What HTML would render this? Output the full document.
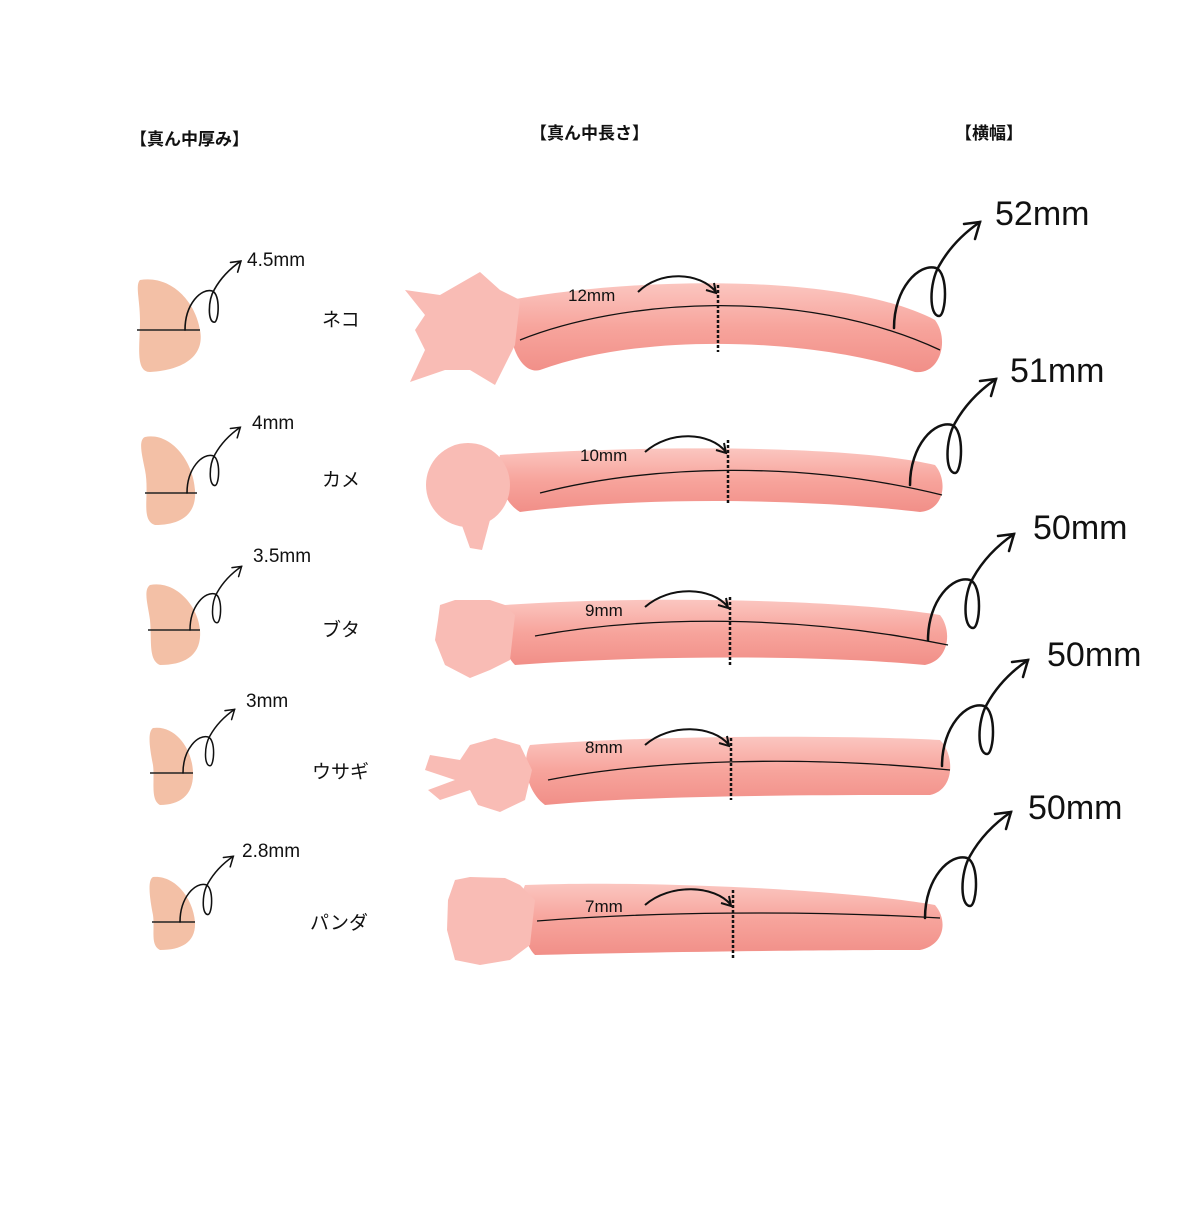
<!DOCTYPE html>
<html><head><meta charset="utf-8"><style>
html,body{margin:0;padding:0;background:#fff;}
svg text{font-family:"Liberation Sans","Noto Sans CJK JP",sans-serif;fill:#111;}
</style></head><body>
<svg width="1200" height="1200" viewBox="0 0 1200 1200" xmlns="http://www.w3.org/2000/svg">
<defs>
<g id="loop" fill="none" stroke="#111" stroke-width="2.5" stroke-linecap="round">
<path d="M0,0 C0,-40 25,-65 42,-60 C55,-55 52,-12 45,-12 C35,-12 35,-45 45,-62 C55,-80 70,-95 86,-106"/>
<path d="M70,-104 L86,-106 L81,-89"/>
</g>
<linearGradient id="bg" x1="0" y1="0" x2="0" y2="1">
<stop offset="0" stop-color="#fbc6c0"/><stop offset="0.5" stop-color="#f7a49c"/><stop offset="1" stop-color="#f18f88"/>
</linearGradient>
</defs>
<text x="130" y="145" font-size="17" font-weight="bold">【真ん中厚み】</text>
<text x="530" y="139" font-size="17" font-weight="bold">【真ん中長さ】</text>
<text x="955" y="139" font-size="17" font-weight="bold">【横幅】</text>

<!-- Row 1 -->
<path d="M140,280 C170,275 195,300 200,330 C205,355 185,370 150,372 C135,372 140,345 140,320 C140,300 135,285 140,280Z" fill="#f3c0a6"/>
<line x1="137" y1="330" x2="200" y2="330" stroke="#222" stroke-width="1.5"/>
<use href="#loop" transform="translate(185,330) scale(0.65)"/>
<text x="247" y="266" font-size="19">4.5mm</text>
<text x="322" y="326" font-size="19">ネコ</text>
<path d="M510,300 C650,275 850,275 935,320 C950,340 940,375 915,372 C820,340 650,330 540,370 C520,375 505,340 510,300Z" fill="url(#bg)"/>
<path d="M405,290 L440,295 L480,272 L500,290 L520,300 L515,345 L495,385 L470,370 L445,370 L410,382 L425,350 L415,330 L425,315Z" fill="#f9bcb5"/>
<path d="M520,340 C620,300 800,285 940,350" fill="none" stroke="#111" stroke-width="1.3"/>
<line x1="718" y1="285" x2="718" y2="352" stroke="#111" stroke-width="2.5" stroke-dasharray="3,2"/>
<path d="M638,292 C660,270 700,272 716,292" fill="none" stroke="#111" stroke-width="2"/><path d="M706,290 L716,293 L714,283" fill="none" stroke="#111" stroke-width="2"/>
<text x="568" y="301" font-size="17">12mm</text>
<use href="#loop" transform="translate(894,328)"/>
<text x="995" y="225" font-size="34">52mm</text>

<!-- Row 2 -->
<path d="M145,437 C170,432 193,460 195,490 C197,515 180,525 155,525 C140,520 150,495 145,470 C142,455 138,440 145,437Z" fill="#f3c0a6"/>
<line x1="145" y1="493" x2="197" y2="493" stroke="#222" stroke-width="1.5"/>
<use href="#loop" transform="translate(187,493) scale(0.62)"/>
<text x="252" y="429" font-size="19">4mm</text>
<text x="322" y="486" font-size="19">カメ</text>
<path d="M500,455 C650,445 850,445 935,465 C948,480 945,510 920,512 C820,500 650,495 520,512 C500,500 495,470 500,455Z" fill="url(#bg)"/>
<circle cx="468" cy="485" r="42" fill="#f9bcb5"/><path d="M460,520 L490,520 L482,550 L470,548Z" fill="#f9bcb5"/>
<path d="M540,493 C650,465 800,460 942,495" fill="none" stroke="#111" stroke-width="1.3"/>
<line x1="728" y1="440" x2="728" y2="505" stroke="#111" stroke-width="2.5" stroke-dasharray="3,2"/>
<path d="M645,452 C670,430 710,432 726,452" fill="none" stroke="#111" stroke-width="2"/><path d="M716,450 L726,453 L724,443" fill="none" stroke="#111" stroke-width="2"/>
<text x="580" y="461" font-size="17">10mm</text>
<use href="#loop" transform="translate(910,485)"/>
<text x="1010" y="382" font-size="34">51mm</text>

<!-- Row 3 -->
<path d="M150,585 C175,580 198,605 200,630 C202,655 185,665 160,665 C148,660 152,640 150,620 C148,605 143,590 150,585Z" fill="#f3c0a6"/>
<line x1="148" y1="630" x2="200" y2="630" stroke="#222" stroke-width="1.5"/>
<use href="#loop" transform="translate(190,630) scale(0.6)"/>
<text x="253" y="562" font-size="19">3.5mm</text>
<text x="322" y="636" font-size="19">ブタ</text>
<path d="M505,605 C650,595 850,600 940,615 C952,630 950,660 925,665 C820,655 650,655 515,665 C500,650 498,620 505,605Z" fill="url(#bg)"/>
<path d="M440,605 L455,600 L490,600 L505,605 L515,615 L510,660 L490,670 L470,678 L445,665 L435,640 L438,620Z" fill="#f9bcb5"/>
<path d="M535,636 C650,615 800,615 948,645" fill="none" stroke="#111" stroke-width="1.3"/>
<line x1="730" y1="597" x2="730" y2="665" stroke="#111" stroke-width="2.5" stroke-dasharray="3,2"/>
<path d="M645,607 C670,585 712,587 728,607" fill="none" stroke="#111" stroke-width="2"/><path d="M718,605 L728,608 L726,598" fill="none" stroke="#111" stroke-width="2"/>
<text x="585" y="616" font-size="17">9mm</text>
<use href="#loop" transform="translate(928,640)"/>
<text x="1033" y="539" font-size="34">50mm</text>

<!-- Row 4 -->
<path d="M153,728 C175,725 192,748 193,772 C194,795 180,805 160,805 C150,800 155,780 153,765 C150,750 147,732 153,728Z" fill="#f3c0a6"/>
<line x1="150" y1="773" x2="193" y2="773" stroke="#222" stroke-width="1.5"/>
<use href="#loop" transform="translate(183,773) scale(0.6)"/>
<text x="246" y="707" font-size="19">3mm</text>
<text x="312" y="778" font-size="19">ウサギ</text>
<path d="M530,745 C650,735 850,735 940,740 C955,755 955,790 930,795 C820,795 650,795 545,805 C525,790 522,760 530,745Z" fill="url(#bg)"/>
<path d="M470,745 L495,738 L520,745 L532,770 L525,800 L500,812 L478,805 L470,790 L440,800 L428,790 L455,780 L425,770 L430,755 L460,760Z" fill="#f9bcb5"/>
<path d="M548,780 C650,760 800,755 950,770" fill="none" stroke="#111" stroke-width="1.3"/>
<line x1="731" y1="738" x2="731" y2="800" stroke="#111" stroke-width="2.5" stroke-dasharray="3,2"/>
<path d="M645,745 C670,723 713,725 729,745" fill="none" stroke="#111" stroke-width="2"/><path d="M719,743 L729,746 L727,736" fill="none" stroke="#111" stroke-width="2"/>
<text x="585" y="753" font-size="17">8mm</text>
<use href="#loop" transform="translate(942,766)"/>
<text x="1047" y="666" font-size="34">50mm</text>

<!-- Row 5 -->
<path d="M153,877 C175,875 193,898 195,922 C196,942 182,950 160,950 C150,945 155,930 153,915 C150,900 147,880 153,877Z" fill="#f3c0a6"/>
<line x1="152" y1="922" x2="195" y2="922" stroke="#222" stroke-width="1.5"/>
<use href="#loop" transform="translate(180,922) scale(0.62)"/>
<text x="242" y="857" font-size="19">2.8mm</text>
<text x="310" y="929" font-size="19">パンダ</text>
<path d="M525,885 C650,880 850,890 935,905 C948,920 945,945 920,950 C820,950 650,952 535,955 C520,940 518,900 525,885Z" fill="url(#bg)"/>
<path d="M455,880 L470,877 L505,878 L520,885 L535,900 L530,945 L510,960 L480,965 L455,960 L447,930 L448,900Z" fill="#f9bcb5"/>
<path d="M537,921 C650,912 800,910 940,918" fill="none" stroke="#111" stroke-width="1.3"/>
<line x1="733" y1="890" x2="733" y2="960" stroke="#111" stroke-width="2.5" stroke-dasharray="3,2"/>
<path d="M645,905 C670,883 715,885 731,905" fill="none" stroke="#111" stroke-width="2"/><path d="M721,903 L731,906 L729,896" fill="none" stroke="#111" stroke-width="2"/>
<text x="585" y="912" font-size="17">7mm</text>
<use href="#loop" transform="translate(925,918)"/>
<text x="1028" y="819" font-size="34">50mm</text>
</svg>
</body></html>
